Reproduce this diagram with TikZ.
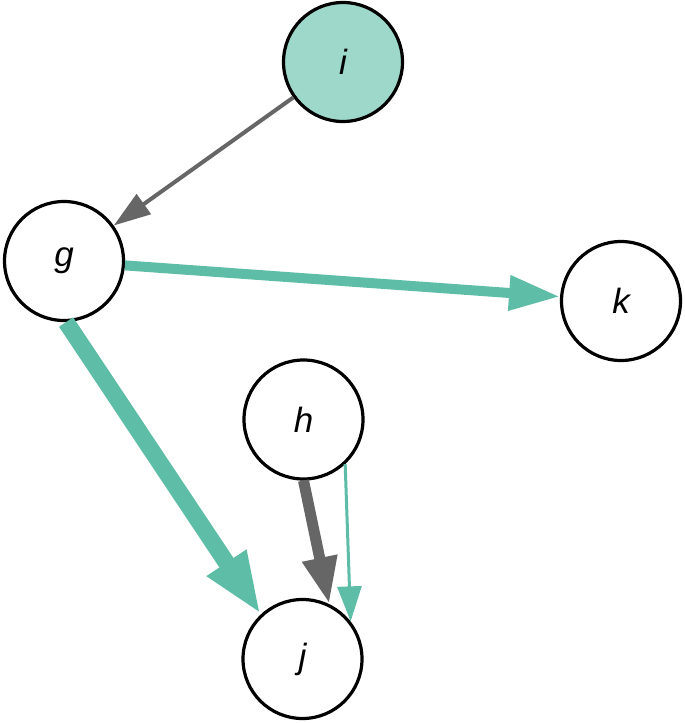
\documentclass[tikz,border=0pt]{standalone}
\usepackage{fontspec}
\setmainfont{Liberation Sans}
\usetikzlibrary{arrows.meta}
\definecolor{teal2}{HTML}{5DBDA7}
\definecolor{tealfill}{HTML}{9DD8CA}
\definecolor{edgegray}{HTML}{666666}
\begin{document}
\begin{tikzpicture}[x=1pt,y=-1pt,
  vertex/.style={circle,draw=black,line width=3.2pt,fill=white,minimum size=119pt,inner sep=0pt,
    font=\fontsize{35}{40}\selectfont\itshape},
  grayedge/.style={draw=edgegray,fill=edgegray},
  tealedge/.style={draw=teal2,fill=teal2}]
\useasboundingbox (0,0) rectangle (685,723);
\node[vertex,fill=tealfill] (i) at (343,62) {i};
\node[vertex] (g) at (64,261) {g};
\node[vertex] (k) at (621,301) {k};
\node[vertex] (h) at (303.5,419.5) {h};
\node[vertex] (j) at (302.5,659) {j};
\draw[grayedge,line width=4pt,-{Triangle[length=37pt,width=24pt]}] (i) -- (g);
\draw[tealedge,line width=10pt,-{Triangle[length=51pt,width=33pt]}] (g) -- (k);
\draw[tealedge,line width=17pt,-{Triangle[length=62pt,width=43pt]}] (g.-88) -- (j.133);
\draw[grayedge,line width=11pt,-{Triangle[length=47pt,width=33pt]}] (h.-90) -- (j.64);
\draw[tealedge,line width=3pt,-{Triangle[length=35pt,width=24pt]}] (h.-47.6) -- (j.38);
\end{tikzpicture}
\end{document}
